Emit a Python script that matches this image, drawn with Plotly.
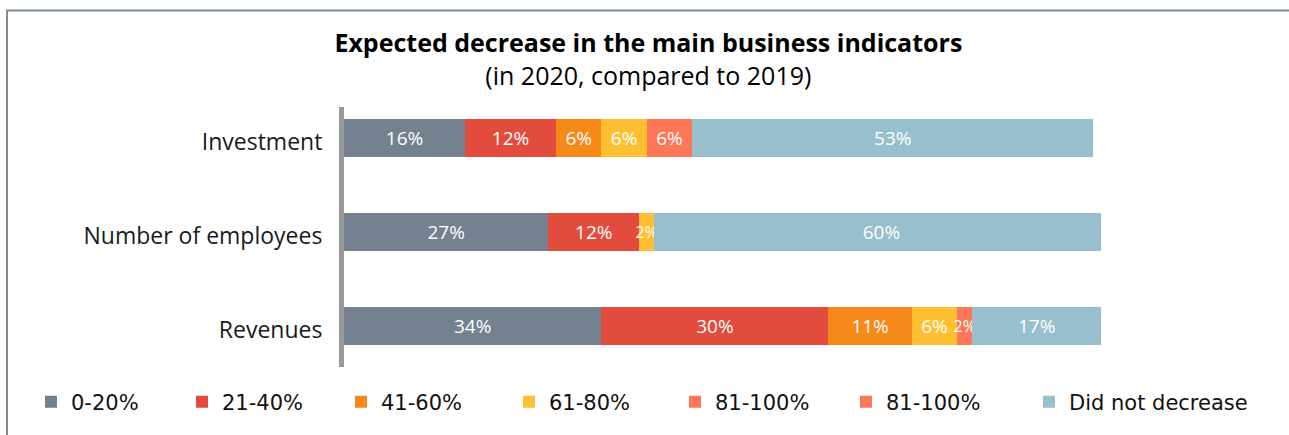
import plotly.graph_objects as go

# Indicators (listed bottom to top on the chart)
indicators = ["Revenues", "Number of employees", "Investment"]

# Share of companies (%) expecting each size of decrease, per indicator
dec_0_20 = [34, 27, 16]
dec_21_40 = [30, 12, 12]
dec_41_60 = [11, 0, 6]
dec_61_80 = [6, 2, 6]
dec_81_100 = [2, 0, 6]
dec_81_100_b = [0, 0, 0]
no_decrease = [17, 60, 53]

series = [
    ("0-20%", dec_0_20, "#74818E"),
    ("21-40%", dec_21_40, "#E34B3C"),
    ("41-60%", dec_41_60, "#F7891A"),
    ("61-80%", dec_61_80, "#FEBF31"),
    ("81-100%", dec_81_100, "#FE7759"),
    ("81-100%", dec_81_100_b, "#FE7759"),
    ("Did not decrease", no_decrease, "#97BFCD"),
]

# Plot-area geometry in pixels
PL, PR, PT, PB = 344, 1101, 107, 367


def xp(px):
    return (px - PL) / (PR - PL)


def yp(py):
    return (PB - py) / (PB - PT)


# left edges of each legend entry
legend_left = [31, 182, 341, 509, 675, 846, 1029]

fig = go.Figure()
legend_layouts = {}
for i, (name, vals, color) in enumerate(series):
    lname = "legend" if i == 0 else f"legend{i + 1}"
    fig.add_trace(go.Bar(
        y=indicators,
        x=vals,
        name=name,
        orientation="h",
        marker=dict(color=color, line=dict(width=0)),
        text=[f"{v}%" if v > 0 else "" for v in vals],
        textposition="inside",
        insidetextanchor="middle",
        textangle=0,
        constraintext="none",
        textfont=dict(
            family="Open Sans",
            # thin segments get a smaller label so it stays readable
            size=[16 if v < 3 else 19 for v in vals],
            color="#FFFFFF",
        ),
        legend=lname,
        hoverinfo="skip",
    ))
    legend_layouts[lname] = dict(
        orientation="h",
        x=xp(legend_left[i]),
        xanchor="left",
        y=yp(402),
        yanchor="middle",
        bgcolor="rgba(0,0,0,0)",
        borderwidth=0,
        font=dict(family="DejaVu Sans", size=21, color="#111111"),
        itemwidth=30,
    )

fig.update_layout(
    width=1289,
    height=435,
    autosize=False,
    margin=dict(l=PL, r=1289 - PR, t=PT, b=435 - PB, pad=0),
    paper_bgcolor="#FFFFFF",
    plot_bgcolor="#FFFFFF",
    barmode="stack",
    bargap=0.596,
    showlegend=True,
    title=dict(
        text="<b>Expected decrease in the main business indicators</b><br>"
             "<span style='font-size:25px'>(in 2020, compared to 2019)</span>",
        x=0.503,
        xref="container",
        xanchor="center",
        y=0.88,
        yref="container",
        yanchor="top",
        font=dict(family="Open Sans", size=25, color="#000000"),
    ),
    xaxis=dict(
        range=[0, 100],
        visible=False,
        fixedrange=True,
    ),
    yaxis=dict(
        type="category",
        categoryorder="array",
        categoryarray=indicators,
        range=[-0.436, 2.330],
        showline=True,
        linecolor="#9A9A9C",
        linewidth=5,
        showgrid=False,
        zeroline=False,
        ticks="",
        ticklabelstandoff=12,
        ticklabelshift=4,
        tickfont=dict(family="Open Sans", size=23, color="#1A1A1A"),
        fixedrange=True,
    ),
    shapes=[
        dict(
            type="rect",
            xref="paper", yref="paper",
            x0=xp(7), x1=xp(1300),
            y0=yp(450), y1=yp(10.5),
            line=dict(color="#7C8C9B", width=2),
            fillcolor="rgba(0,0,0,0)",
            layer="below",
        )
    ],
    **legend_layouts,
)

fig.write_html("out.html")
